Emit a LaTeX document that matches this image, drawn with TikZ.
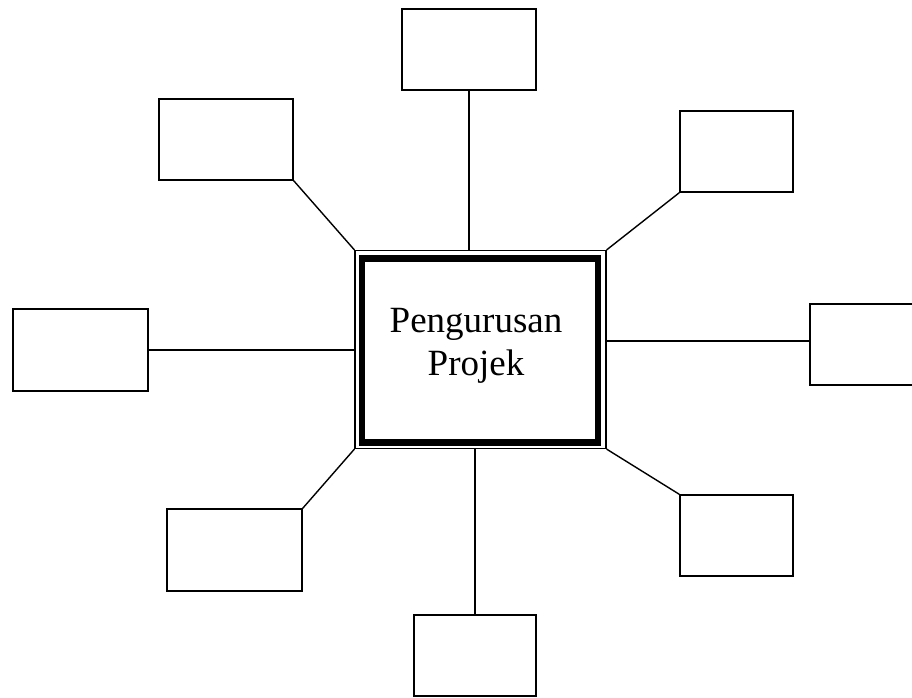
\documentclass[tikz,border=0pt]{standalone}
\usepackage{fontspec}
\setmainfont{Liberation Serif}
\usepackage{tikz}
\usetikzlibrary{positioning}

\begin{document}
\begin{tikzpicture}[
    x=1pt, y=-1pt,
    leaf/.style={rectangle, draw, line width=1.4pt, inner sep=0pt, minimum width=134pt, minimum height=81pt},
    hubframe/.style={rectangle, draw, line width=1.2pt, inner sep=0pt, minimum width=251pt, minimum height=198pt},
    hubcore/.style={rectangle, draw, line width=6.5pt, inner sep=0pt, minimum width=236pt, minimum height=184pt},
    link/.style={line width=1.4pt}
]
    \useasboundingbox (0,0) rectangle (912,697);

    \node[hubframe] (hub) at (480.5,349.5) {};
    \node[hubcore] (core) at (480,350.5) {};
    \node (title) at (476,346) [align=center, font=\fontsize{37}{43}\selectfont] {Pengurusan\\Projek};

    \node[leaf] (top) at (469,49.5) {};
    \node[leaf] (topleft) at (226,139.5) {};
    \node[leaf, minimum width=113pt] (topright) at (736.5,151.5) {};
    \node[leaf, minimum width=135pt, minimum height=82pt] (left) at (80.5,350) {};
    \node[leaf, minimum width=113pt] (right) at (866.5,344.5) {};
    \node[leaf, minimum width=135pt, minimum height=82pt] (botleft) at (234.5,550) {};
    \node[leaf, minimum width=113pt] (botright) at (736.5,535.5) {};
    \node[leaf, minimum width=122pt] (bottom) at (475,655.5) {};

    \draw[link] (top.south) -- (top.south |- hub.north);
    \draw[link] (topleft.south east) -- (hub.north west);
    \draw[link] (topright.south west) -- (hub.north east);
    \draw[link] (left.east) -- (left.east -| hub.west);
    \draw[link] ([yshift=3.5pt]right.west) -- ([yshift=3.5pt]right.west -| hub.east);
    \draw[link] (botleft.north east) -- (hub.south west);
    \draw[link] (botright.north west) -- (hub.south east);
    \draw[link] (bottom.north) -- (bottom.north |- hub.south);
\end{tikzpicture}
\end{document}
